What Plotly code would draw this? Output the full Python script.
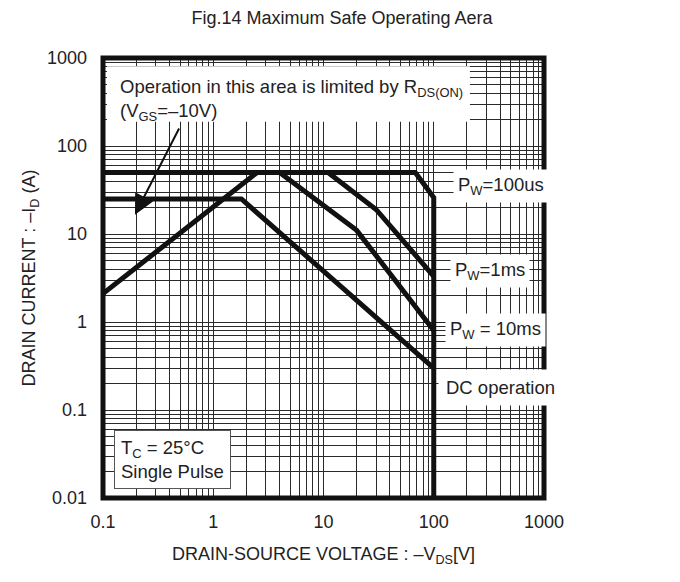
import numpy as np
import plotly.graph_objects as go

# ---- data ----
rds_v = [0.1, 2.5]
rds_i = [2.1, 50]
pw100us_v = [0.1, 68, 100, 100]
pw100us_i = [50, 50, 26, 0.01]
pw1ms_v = [11, 30, 100]
pw1ms_i = [50, 19, 3.3]
pw10ms_v = [4, 20, 100]
pw10ms_i = [50, 11, 0.8]
dc_v = [0.1, 1.8, 100]
dc_i = [25, 25, 0.3]

x_ticks = [0.1, 1, 10, 100, 1000]
x_tick_labels = ["0.1", "1", "10", "100", "1000"]
y_ticks = [0.01, 0.1, 1, 10, 100, 1000]
y_tick_labels = ["0.01", "0.1", "1", "10", "100", "1000"]

FONT = "Liberation Sans, Arial, sans-serif"
TXT = "#222222"
LINE = dict(color="#111111", width=5)

fig = go.Figure()
for v, i in [(rds_v, rds_i), (pw100us_v, pw100us_i), (pw1ms_v, pw1ms_i),
             (pw10ms_v, pw10ms_i), (dc_v, dc_i)]:
    fig.add_trace(go.Scatter(x=v, y=i, mode="lines", line=LINE,
                             hoverinfo="skip", showlegend=False))

grid = "#2a2a2a"
fig.update_xaxes(type="log", range=[-1, 3], tickvals=x_ticks, ticktext=x_tick_labels,
                 showgrid=True, gridcolor=grid, gridwidth=1,
                 minor=dict(dtick="D1", showgrid=True, gridcolor=grid, gridwidth=1),
                 showline=False, ticks="", ticklabelstandoff=11,
                 tickfont=dict(family=FONT, size=18, color=TXT),
                 title=dict(text="DRAIN-SOURCE VOLTAGE : \u2013V<sub>DS</sub>[V]",
                            font=dict(family=FONT, size=18, color=TXT), standoff=16),
                 zeroline=False)
fig.update_yaxes(type="log", range=[-2, 3], tickvals=y_ticks, ticktext=y_tick_labels,
                 showgrid=True, gridcolor=grid, gridwidth=1,
                 minor=dict(dtick="D1", showgrid=True, gridcolor=grid, gridwidth=1),
                 showline=False, ticks="", ticklabelstandoff=15,
                 tickfont=dict(family=FONT, size=18, color=TXT),
                 title=dict(text="DRAIN CURRENT : \u2013I<sub>D</sub> (A)",
                            font=dict(family=FONT, size=18, color=TXT), standoff=6),
                 zeroline=False)

AF = 18.5
ann_font = dict(family=FONT, size=AF, color=TXT)
annotations = [
    dict(xref="paper", yref="paper", x=0.034, y=0.9055, xanchor="left", yanchor="middle",
         text="Operation in this area is limited by R<sub>DS(ON)</sub><br>(V<sub>GS</sub>=\u201310V)",
         align="left", showarrow=False, font=ann_font),
    dict(xref="paper", yref="paper", x=0.902, y=0.7096, xanchor="center", yanchor="middle",
         text="P<sub>W</sub>=100us", showarrow=False, bgcolor="white", borderpad=4,
         font=ann_font),
    dict(xref="paper", yref="paper", x=0.878, y=0.515, xanchor="center", yanchor="middle",
         text="P<sub>W</sub>=1ms", showarrow=False, bgcolor="white", borderpad=4,
         font=ann_font),
    dict(xref="paper", yref="paper", x=0.891, y=0.3815, xanchor="center", yanchor="middle",
         text="P<sub>W</sub> = 10ms", showarrow=False, bgcolor="white", borderpad=4,
         font=ann_font),
    dict(xref="paper", yref="paper", x=0.902, y=0.252, xanchor="center", yanchor="middle",
         text="DC operation", showarrow=False, bgcolor="white", borderpad=7,
         font=ann_font),
    dict(xref="paper", yref="paper", x=0.157, y=0.088, xanchor="center", yanchor="middle",
         text="T<sub>C</sub> = 25\u00b0C<br>Single Pulse", align="left",
         showarrow=False, bgcolor="white", bordercolor="#555", borderwidth=1,
         borderpad=6, font=ann_font),
    dict(xref="x", yref="y", axref="x", ayref="y",
         x=-0.71, y=1.22, ax=-0.303, ay=2.215, text="", showarrow=True,
         arrowhead=2, arrowsize=2, arrowwidth=2, arrowcolor="#111"),
]

fig.update_layout(
    width=680, height=582,
    margin=dict(l=103, r=136, t=58, b=84),
    plot_bgcolor="white", paper_bgcolor="white",
    title=dict(text="Fig.14 Maximum Safe Operating Aera", x=0.503, xanchor="center",
               y=0.969, yanchor="middle", font=dict(family=FONT, size=18, color=TXT)),
    annotations=annotations,
    shapes=[
        dict(type="rect", xref="paper", yref="paper", x0=0.009, x1=0.832,
             y0=0.855, y1=0.981, fillcolor="white", line=dict(width=0), layer="above"),
        dict(type="rect", xref="paper", yref="paper", x0=0, x1=1, y0=0, y1=1,
             line=dict(color="#111111", width=5), layer="above"),
    ],
)

fig.write_html("out.html")
